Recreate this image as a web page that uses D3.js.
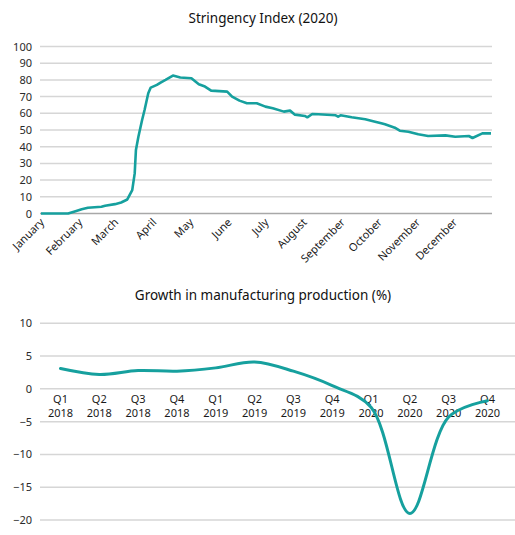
<!DOCTYPE html>
<meta charset="utf-8">
<title>Stringency and manufacturing</title>
<style>
  body { margin: 0; background: #fff; font-family: "Noto Sans", sans-serif; }
  .title { font-size: 13.5px; fill: #111; }
  .tick text { fill: #2a2a2a; }
  .grid line { stroke: #d6d6d6; stroke-width: 1.5; }
</style>
<svg id="chart" width="515" height="535"></svg>
<script src="https://cdn.jsdelivr.net/npm/d3@7"></script>
<script>

// stringency index, 2020 (dates and values)
var sDates = ["2020-01-01","2020-01-23","2020-01-29","2020-02-03","2020-02-08","2020-02-19",
  "2020-02-22","2020-03-01","2020-03-06","2020-03-11","2020-03-15","2020-03-17","2020-03-18",
  "2020-03-20","2020-03-23","2020-03-25","2020-03-28","2020-03-30","2020-04-04","2020-04-07",
  "2020-04-11","2020-04-17","2020-04-23","2020-05-02","2020-05-08","2020-05-13","2020-05-18",
  "2020-05-31","2020-06-04","2020-06-10","2020-06-16","2020-06-24","2020-07-01","2020-07-07",
  "2020-07-16","2020-07-21","2020-07-25","2020-08-02","2020-08-04","2020-08-08","2020-08-13",
  "2020-08-27","2020-08-29","2020-08-31","2020-09-09","2020-09-20","2020-09-28","2020-10-03",
  "2020-10-06","2020-10-14","2020-10-18","2020-10-25","2020-11-02","2020-11-10","2020-11-24",
  "2020-12-02","2020-12-13","2020-12-16","2020-12-24","2020-12-31"];
var sValues = [0,0,1.4,2.6,3.4,4,4.6,5.6,6.6,8.4,14,24,38,46,56,62,72,75.4,77,78.4,
  80,82.6,81.4,81,77.4,76,73.6,73,70,67.6,66,66,64,63,61,61.6,59.2,58.4,57.6,59.6,
  59.4,58.8,58,58.8,57.6,56.4,55,54,53.4,51.4,49.6,49,47.4,46.4,46.8,46,46.4,45.2,48,48];
var months = ["January","February","March","April","May","June","July","August",
  "September","October","November","December"];
var sTicks = [0,10,20,30,40,50,60,70,80,90,100];

// growth in manufacturing production (%)
var quarters = ["Q1","Q2","Q3","Q4","Q1","Q2","Q3","Q4","Q1","Q2","Q3","Q4"];
var years = ["2018","2018","2018","2018","2019","2019","2019","2019","2020","2020","2020","2020"];
var growth = [3.1,2.2,2.8,2.7,3.2,4.1,2.7,0.5,-2.8,-19.0,-4.3,-1.8];
var gTicks = [10,5,0,-5,-10,-15,-20];

var teal = "#16a09e";
var svg = d3.select("#chart");
var parse = d3.timeParse("%Y-%m-%d");

// ---- top chart
var x1 = d3.scaleTime()
  .domain([parse("2020-01-01"), parse("2020-12-31")])
  .range([41, 491]);
var y1 = d3.scaleLinear().domain([0, 100]).range([213.5, 46.5]);

svg.append("text").attr("class", "title")
  .attr("x", 263).attr("y", 23).attr("text-anchor", "middle")
  .text("Stringency Index (2020)");

svg.append("g").attr("class", "grid")
  .selectAll("line").data(sTicks).join("line")
  .attr("x1", 40).attr("x2", 492)
  .attr("y1", d => y1(d)).attr("y2", d => y1(d))
  .style("stroke", d => d == 0 ? "#a8a8a8" : null);

svg.append("g")
  .attr("transform", "translate(40,0)")
  .call(d3.axisLeft(y1).tickValues(sTicks).tickSize(0).tickPadding(8))
  .call(g => g.select(".domain").remove())
  .selectAll("text").style("font-size", "11px").style("font-family", "Noto Sans");

var monthStarts = months.map((m, i) => new Date(2020, i, 1));
svg.append("g").selectAll("text").data(monthStarts).join("text")
  .attr("transform", d => "translate(" + (x1(d) + 4) + ",223) rotate(-45)")
  .attr("text-anchor", "end")
  .style("font-size", "11px").style("fill", "#1a1a1a")
  .text((d, i) => months[i]);

var sData = sDates.map((d, i) => ({ date: parse(d), v: sValues[i] }));
svg.append("path").datum(sData)
  .attr("fill", "none").attr("stroke", teal).attr("stroke-width", 2.6)
  .attr("stroke-linejoin", "round")
  .attr("d", d3.line().x(d => x1(d.date)).y(d => y1(d.v)));

// ---- bottom chart
var x2 = d3.scalePoint().domain(d3.range(12)).range([60.5, 487.5]);
var y2 = d3.scaleLinear().domain([-20, 10]).range([520, 323.3]);

svg.append("text").attr("class", "title")
  .attr("x", 263).attr("y", 300).attr("text-anchor", "middle")
  .text("Growth in manufacturing production (%)");

svg.append("g").attr("class", "grid")
  .selectAll("line").data(gTicks).join("line")
  .attr("x1", 40).attr("x2", 515)
  .attr("y1", d => y2(d)).attr("y2", d => y2(d));

svg.append("g")
  .attr("transform", "translate(40,0)")
  .call(d3.axisLeft(y2).tickValues(gTicks).tickSize(0).tickPadding(8))
  .call(g => g.select(".domain").remove())
  .selectAll("text").style("font-size", "11px").style("font-family", "Noto Sans");

// quarter and year as two separate rows
var qRow = svg.append("g");
qRow.selectAll("text.q").data(d3.range(12)).join("text")
  .attr("class", "q")
  .attr("x", d => x2(d)).attr("y", 403)
  .attr("text-anchor", "middle")
  .style("font-size", "11px").style("fill", "#1a1a1a")
  .text(d => quarters[d]);
qRow.selectAll("text.yr").data(d3.range(12)).join("text")
  .attr("class", "yr")
  .attr("x", d => x2(d)).attr("y", 417)
  .attr("text-anchor", "middle")
  .style("font-size", "11px").style("fill", "#1a1a1a")
  .text(d => years[d]);

svg.append("path").datum(growth)
  .attr("fill", "none").attr("stroke", teal).attr("stroke-width", 3)
  .attr("stroke-linecap", "round")
  .attr("d", d3.line().curve(d3.curveCatmullRom.alpha(0.5))
    .x((d, i) => x2(i)).y(d => y2(d)));
</script>
